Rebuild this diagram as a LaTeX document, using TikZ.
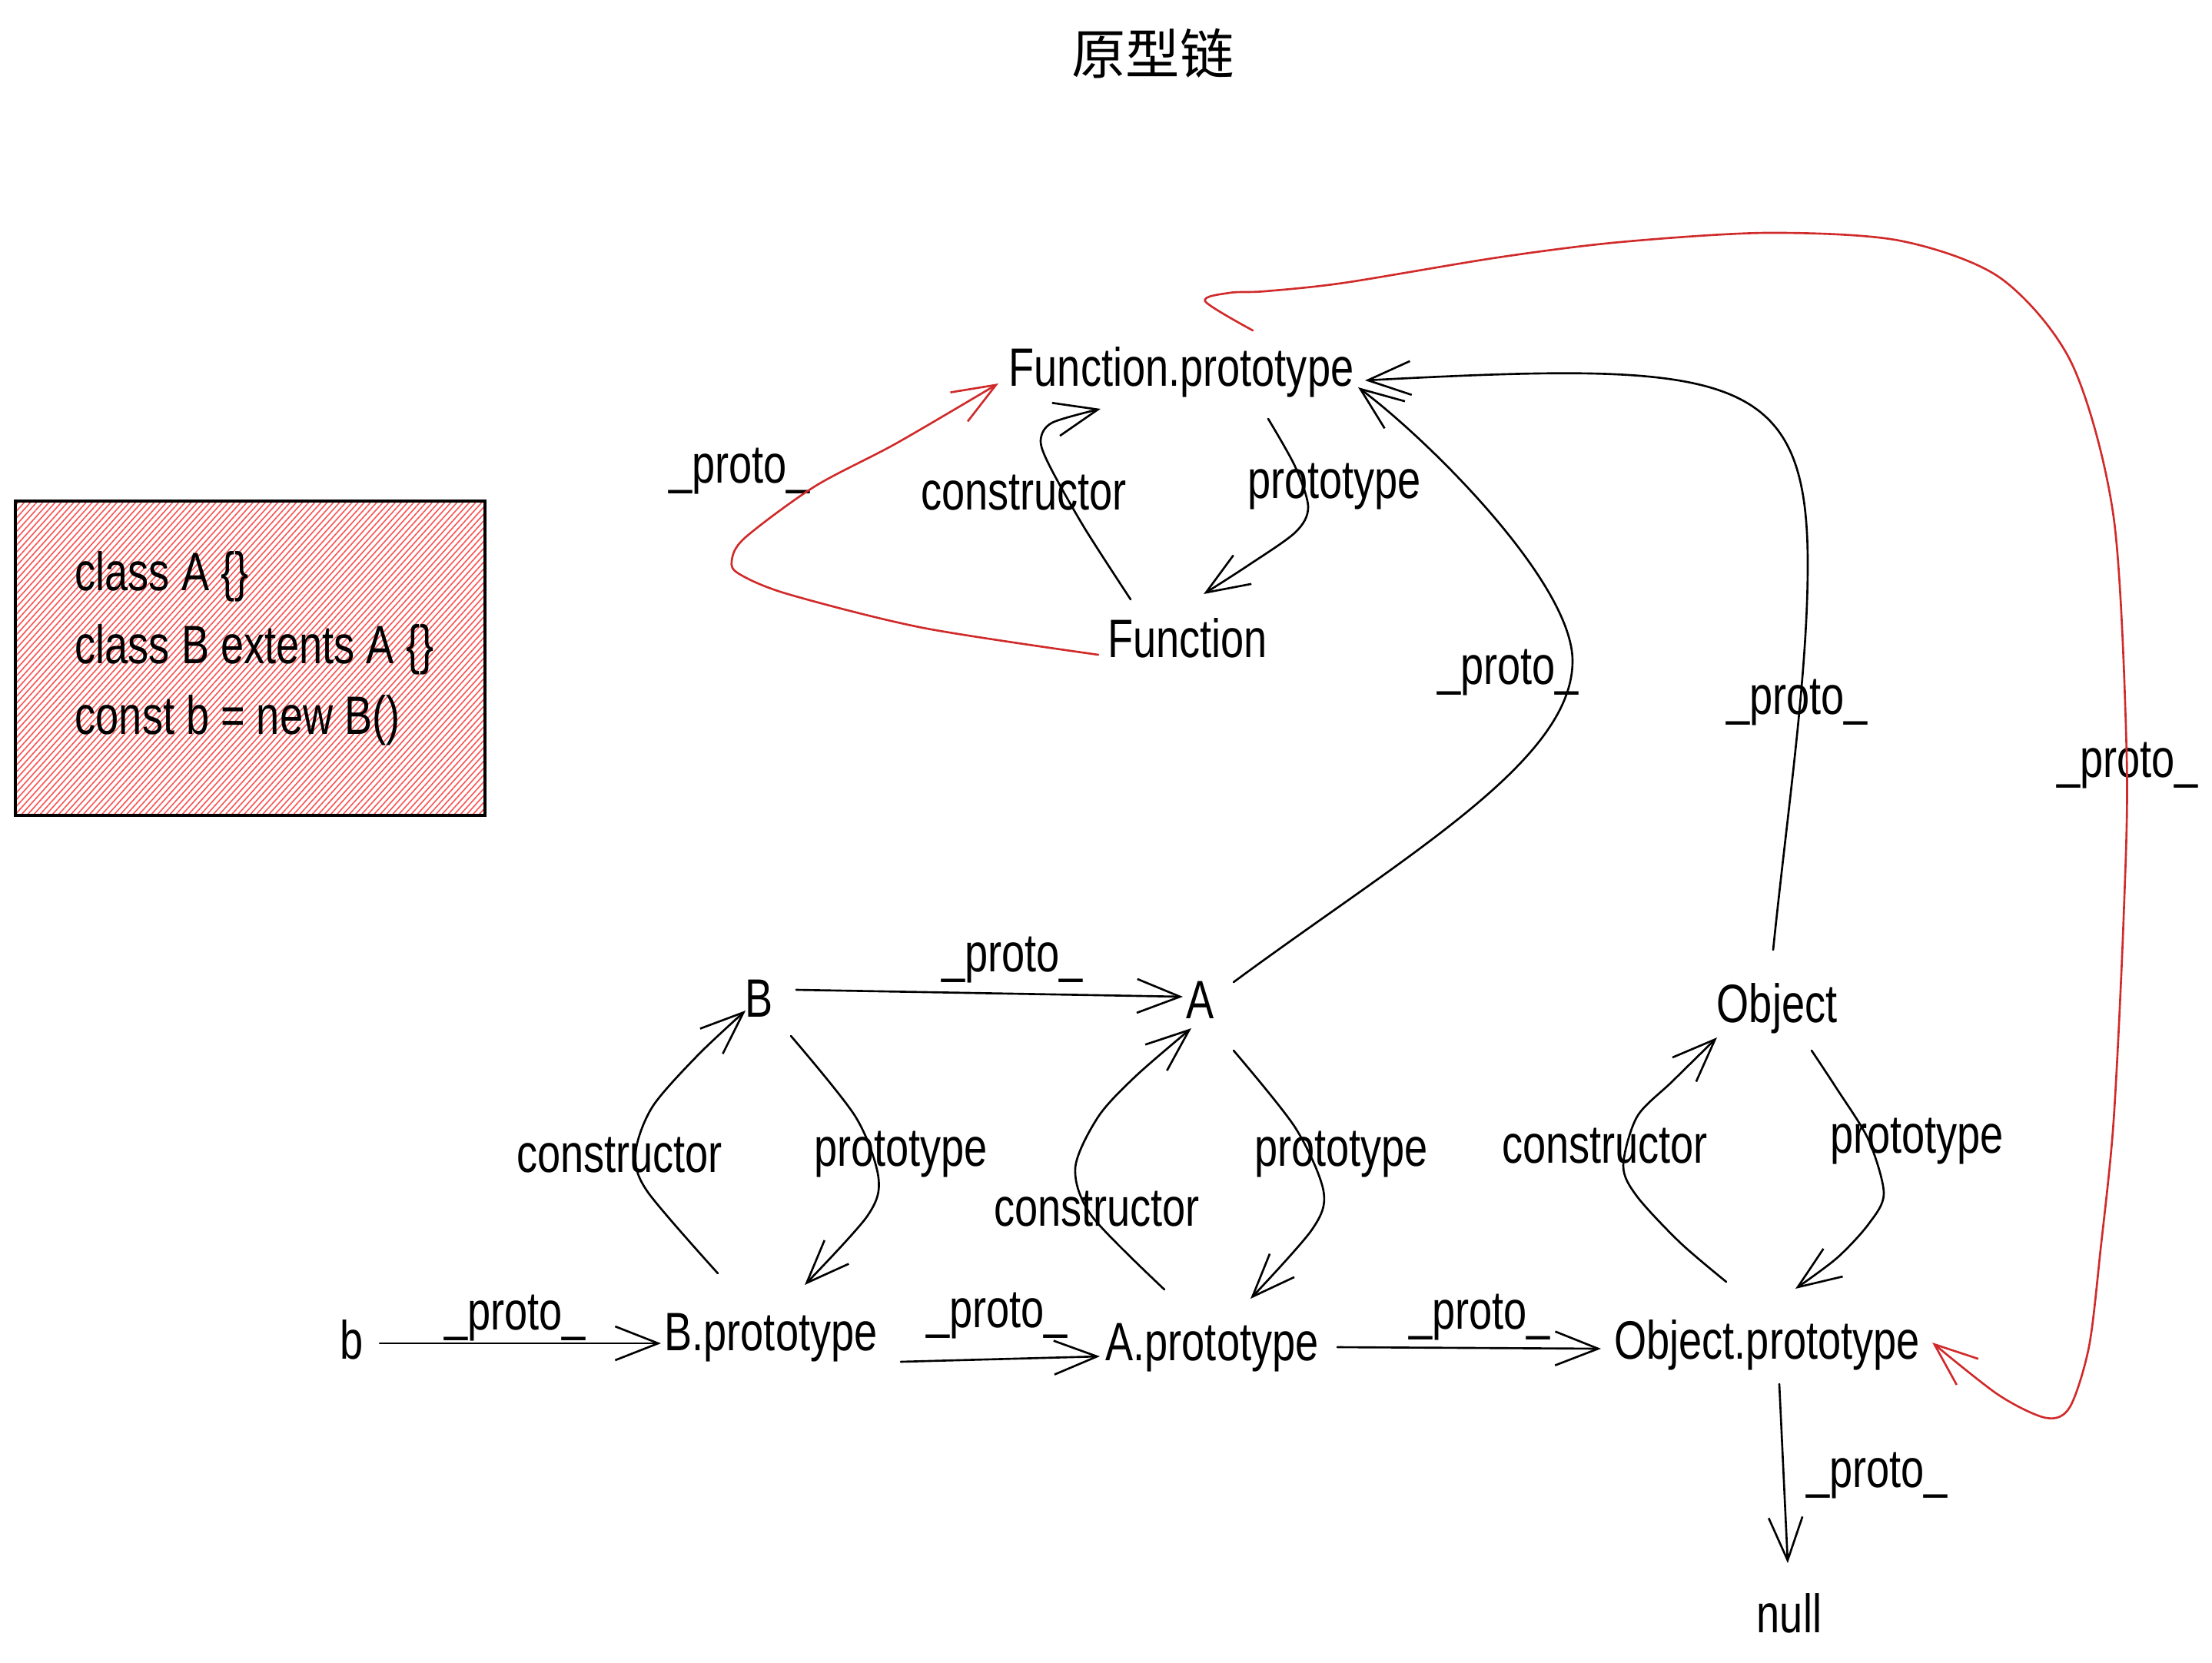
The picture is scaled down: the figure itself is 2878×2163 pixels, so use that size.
\documentclass[tikz,border=0pt]{standalone}
\usepackage{fontspec}
\setmainfont{Liberation Sans}[FakeStretch=0.77]
\newfontfamily\cjkfont{Noto Sans CJK SC}
\usetikzlibrary{arrows.meta,patterns.meta}

\definecolor{inkred}{RGB}{208,42,42}
\definecolor{hatchred}{RGB}{250,82,82}

\begin{document}
\begin{tikzpicture}[x=0.01cm,y=0.01cm,
  lbl/.style={inner sep=0pt, anchor=base, font=\fontsize{20}{24}\selectfont},
  link/.style={line width=0.75pt, line cap=round, line join=round,
    -{Straight Barb[length=5.6mm,width=4.4mm]}},
  redlink/.style={link, draw=inkred},
  codebox/.style={line width=1.1pt, draw=black,
    pattern={Lines[angle=48,distance=1.7pt,line width=0.45pt]}, pattern color=hatchred},
]
\useasboundingbox (0,0) rectangle (2878,-2163);

% title
\node[lbl] (title) at (1500,-96) {\cjkfont 原型链};

% code snippet
\draw[codebox] (20,-652) rectangle (631,-1061);
\node[lbl, anchor=base west] (code1) at (97,-768) {class A \{\}};
\node[lbl, anchor=base west] (code2) at (97,-863) {class B extents A \{\}};
\node[lbl, anchor=base west] (code3) at (97,-955) {const b = new B()};

% objects
\node[lbl] (FP)  at (1537,-502)  {Function.prototype};
\node[lbl] (Fn)  at (1545,-855)  {Function};
\node[lbl] (B)   at (988,-1323)  {B};
\node[lbl] (A)   at (1562,-1325) {A};
\node[lbl] (Obj) at (2312,-1330) {Object};
\node[lbl] (b)   at (458,-1768)  {b};
\node[lbl] (Bp)  at (1003,-1757) {B.prototype};
\node[lbl] (Ap)  at (1577,-1770) {A.prototype};
\node[lbl] (Op)  at (2299,-1768) {Object.prototype};
\node[lbl] (nul) at (2328,-2124) {null};

% edge labels
\node[lbl] (lpFn)  at (962,-628)   {\_proto\_};
\node[lbl] (lcFn)  at (1332,-663)  {constructor};
\node[lbl] (ltFn)  at (1736,-648)  {prototype};
\node[lbl] (lpA)   at (1962,-890)  {\_proto\_};
\node[lbl] (lpObj) at (2338,-929)  {\_proto\_};
\node[lbl] (lpFar) at (2768,-1011) {\_proto\_};
\node[lbl] (lpBA)  at (1317,-1264) {\_proto\_};
\node[lbl] (lcB)   at (806,-1525)  {constructor};
\node[lbl] (ltB)   at (1172,-1517) {prototype};
\node[lbl] (lcA)   at (1427,-1595) {constructor};
\node[lbl] (ltA)   at (1745,-1517) {prototype};
\node[lbl] (lcO)   at (2088,-1513) {constructor};
\node[lbl] (ltO)   at (2494,-1500) {prototype};
\node[lbl] (lpb)   at (670,-1730)  {\_proto\_};
\node[lbl] (lpBp)  at (1297,-1727) {\_proto\_};
\node[lbl] (lpAp)  at (1925,-1729) {\_proto\_};
\node[lbl] (lpOp)  at (2442,-1935) {\_proto\_};

% straight __proto__ links
\draw[link] ([shift={(36,20)}]b.base) -- ([shift={(-143,9)}]Bp.base);
\draw[link] ([shift={(169,-15)}]Bp.base) -- ([shift={(-146,5)}]Ap.base);
\draw[link] ([shift={(163,17)}]Ap.base) -- ([shift={(-216,13)}]Op.base);
\draw[link] ([shift={(16,-33)}]Op.base) -- ([shift={(-2,90)}]nul.base);
\draw[link] ([shift={(48,35)}]B.base) -- ([shift={(-23,28)}]A.base);

% constructor / prototype loops
\draw[link] plot[smooth] coordinates {([shift={(-69,100)}]Bp.base) (842,-1550) (827,-1500) (849,-1440) (908,-1373) ([shift={(-18,8)}]B.base)};
\draw[link] plot[smooth] coordinates {([shift={(41,-25)}]B.base) (1113,-1453) (1143,-1533) (1128,-1583) ([shift={(44,85)}]Bp.base)};
\draw[link] plot[smooth] coordinates {([shift={(-62,92)}]Ap.base) (1421,-1583) (1399,-1520) (1429,-1453) (1478,-1400) ([shift={(-12,-13)}]A.base)};
\draw[link] plot[smooth] coordinates {([shift={(43,-42)}]A.base) (1685,-1467) (1722,-1550) (1707,-1600) ([shift={(50,80)}]Ap.base)};
\draw[link] plot[smooth] coordinates {([shift={(-53,100)}]Op.base) (2186,-1617) (2130,-1557) (2112,-1517) (2130,-1453) (2176,-1407) ([shift={(-78,-20)}]Obj.base)};
\draw[link] plot[smooth] coordinates {([shift={(45,-37)}]Obj.base) (2390,-1417) (2431,-1483) (2451,-1553) (2431,-1593) (2390,-1637) ([shift={(37,91)}]Op.base)};
\draw[link] plot[smooth] coordinates {([shift={(-74,75)}]Fn.base) (1411,-687) (1366,-607) (1354,-573) (1369,-550) ([shift={(-105,-30)}]FP.base)};
\draw[link] plot[smooth] coordinates {([shift={(113,-43)}]FP.base) (1685,-607) (1702,-660) (1685,-693) (1622,-737) ([shift={(21,82)}]Fn.base)};

% long __proto__ links to Function.prototype
\coordinate (noseA) at (2046,-860);
\draw[link] ([shift={(43,47)}]A.base)
  .. controls (1830,-1112) and (2046,-990) .. (noseA)
  .. controls (2046,-760) and (1863,-576) .. ([shift={(230,-2)}]FP.base);
\coordinate (turnObj) at (2352,-734);
\draw[link] ([shift={(-5,94)}]Obj.base)
  .. controls (2325,-1060) and (2352,-880) .. (turnObj)
  .. controls (2352,-480) and (2250,-470) .. ([shift={(239,7)}]FP.base);

% red links
\draw[redlink] plot[smooth] coordinates {([shift={(-116,3)}]Fn.base) (1201,-817) (1025,-773) (962,-747) (952,-730) (969,-700) (1060,-633) (1166,-577) ([shift={(-238,3)}]FP.base)};
\draw[redlink] plot[smooth] coordinates {([shift={(93,72)}]FP.base) (1568,-392) (1600,-381) (1646,-379) (1749,-368) (1949,-335) (2108,-315) (2299,-303) (2471,-313) (2603,-362) (2696,-474) (2750,-673) (2767,-984) (2763,-1194) (2750,-1458) (2733,-1626) (2718,-1752) (2693,-1831) (2662,-1845) (2600,-1815) ([shift={(215,21)}]Op.base)};
\end{tikzpicture}
\end{document}
